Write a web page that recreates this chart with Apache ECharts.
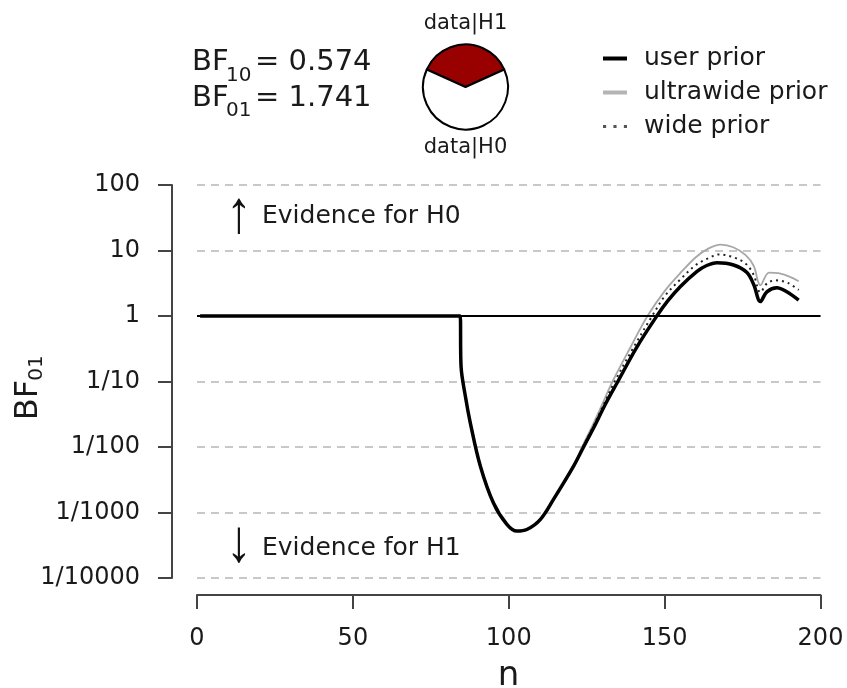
<!DOCTYPE html>
<html>
<head>
<meta charset="utf-8">
<script src="https://cdn.jsdelivr.net/npm/echarts@6/dist/echarts.min.js"></script>
<style>html,body{margin:0;padding:0;background:#fff}#c{width:847px;height:688px}</style>
</head>
<body>
<div id="c"></div>
<script>
// ---- data ----
var bf10 = 0.574;
var bf01 = 1.741;
var yTickValues = [0.0001, 0.001, 0.01, 0.1, 1, 10, 100];
var yTickLabels = ['1/10000', '1/1000', '1/100', '1/10', '1', '10', '100'];
var seriesNames = ['user prior', 'ultrawide prior', 'wide prior'];

var nUser = [1, 84.4, 84.7, 86.1, 87.7, 90.9, 95.1, 99.4, 102.6, 105.8, 110.1, 114.4, 120.8, 124, 127.2, 131, 135, 141, 147.5, 151, 155, 160.4, 163.5, 166.8, 172.1, 176.4, 178.6, 180.7, 182.8, 186, 189.2, 193];
var bfUser = [1, 1, 0.17, 0.059, 0.023, 0.0051, 0.0014, 0.00066, 0.00052, 0.00055, 0.00078, 0.0016, 0.0051, 0.01, 0.0195, 0.045, 0.1, 0.33, 1, 1.7, 2.8, 4.8, 5.9, 6.5, 6.0, 4.6, 3.0, 1.66, 2.34, 2.7, 2.34, 1.741];

var nUltra = [1, 84.4, 84.7, 86.1, 87.7, 90.9, 95.1, 99.4, 102.6, 105.8, 110.1, 114.4, 120.8, 123.5, 127, 130, 133.3, 139, 144.5, 150, 155, 160, 164, 168, 172, 176, 178.6, 180.7, 183.5, 186.5, 190, 193];
var bfUltra = [1, 1, 0.17, 0.059, 0.023, 0.0051, 0.0014, 0.00066, 0.00052, 0.00055, 0.00078, 0.0016, 0.0051, 0.01, 0.022, 0.045, 0.1, 0.33, 1, 2.4, 4.5, 7.9, 10.7, 12.3, 11.2, 8.5, 5.8, 2.95, 4.6, 4.5, 4.0, 3.4];

var nWide = [1, 84.4, 84.7, 86.1, 87.7, 90.9, 95.1, 99.4, 102.6, 105.8, 110.1, 114.4, 120.8, 124, 127.2, 130.5, 134, 140, 146, 150, 155, 160, 164, 167.5, 172, 176, 178.6, 180.7, 183, 186, 189.5, 193];
var bfWide = [1, 1, 0.17, 0.059, 0.023, 0.0051, 0.0014, 0.00066, 0.00052, 0.00055, 0.00078, 0.0016, 0.0051, 0.0105, 0.021, 0.045, 0.1, 0.33, 1, 2.0, 3.6, 6.0, 7.6, 8.7, 7.9, 6.3, 4.2, 2.3, 3.2, 3.5, 3.2, 2.5];

function pairs(xs, ys) { return xs.map(function (x, i) { return [x, ys[i]]; }); }

var FONT = '"DejaVu Sans", "Liberation Sans", sans-serif';
var TXT = '#1a1a1a';
var pH1 = bf10 / (1 + bf10);

var chart = echarts.init(document.getElementById('c'), null, {renderer: 'canvas'});
chart.setOption({
  animation: false,
  backgroundColor: '#fff',
  grid: {left: 197, right: 26.5, top: 185, bottom: 110, containLabel: false},
  xAxis: {
    type: 'value', min: 0, max: 200, interval: 50, offset: 17,
    axisLine: {show: true, onZero: false, lineStyle: {color: '#444', width: 2}},
    axisTick: {show: true, length: 14, inside: false, lineStyle: {color: '#444', width: 2}},
    axisLabel: {margin: 32, fontFamily: FONT, fontSize: 24, color: TXT, showMinLabel: true, showMaxLabel: true},
    splitLine: {show: false}
  },
  yAxis: {
    type: 'log', logBase: 10, min: 0.0001, max: 100, splitNumber: 6, offset: 25,
    axisLine: {show: true, onZero: false, lineStyle: {color: '#444', width: 2}},
    axisTick: {show: true, length: 14, lineStyle: {color: '#444', width: 2}},
    axisLabel: {margin: 32, fontFamily: FONT, fontSize: 24, color: TXT,
      formatter: function (v) { var i = Math.round(Math.log10(v)) + 4; return yTickLabels[i] || ''; }},
    splitLine: {show: true, lineStyle: {color: '#c8c8c8', width: 2, type: [8, 6]}}
  },
  legend: {
    orient: 'vertical', left: 598, top: 41, itemWidth: 24, itemHeight: 4, itemGap: 9,
    textStyle: {fontFamily: FONT, fontSize: 25, color: TXT, lineHeight: 25, padding: [0, 0, 0, 12]},
    data: [
      {name: seriesNames[0], icon: 'rect', itemStyle: {color: '#000'}},
      {name: seriesNames[1], icon: 'rect', itemStyle: {color: '#b4b4b4'}},
      {name: seriesNames[2], icon: 'path://M0,0h3v3h-3z M10,0h3v3h-3z M20,0h3v3h-3z', itemStyle: {color: '#555'}}
    ]
  },
  series: [
    {
      name: seriesNames[1], type: 'line', data: pairs(nUltra, bfUltra), showSymbol: false, symbol: 'none',
      smooth: 0.35, z: 2, itemStyle: {color: '#a8a8a8'},
      lineStyle: {color: '#a8a8a8', width: 1.8}
    },
    {
      name: seriesNames[2], type: 'line', data: pairs(nWide, bfWide), showSymbol: false, symbol: 'none',
      smooth: 0.35, z: 3, itemStyle: {color: '#222'},
      lineStyle: {color: '#222', width: 2, type: [2, 4]}
    },
    {
      name: seriesNames[0], type: 'line', data: pairs(nUser, bfUser), showSymbol: false, symbol: 'none',
      smooth: 0.35, z: 4, itemStyle: {color: '#000'},
      lineStyle: {color: '#000', width: 3.5},
      markLine: {silent: true, symbol: 'none', label: {show: false},
        lineStyle: {color: '#000', width: 2.2, type: 'solid'},
        data: [{yAxis: 1}]}
    },
    {
      type: 'pie', center: [465.5, 87], radius: 42.5, startAngle: 90 + 180 * pH1, clockwise: true,
      silent: true, label: {show: false}, labelLine: {show: false}, z: 5,
      itemStyle: {borderColor: '#000', borderWidth: 2},
      data: [
        {name: 'data|H1', value: pH1, itemStyle: {color: '#990000'}},
        {name: 'data|H0', value: 1 - pH1, itemStyle: {color: '#ffffff'}}
      ]
    }
  ],
  graphic: [
    {type: 'text', x: 192, y: 62, style: {text: 'BF', font: '29px ' + FONT, fill: TXT, align: 'left', verticalAlign: 'middle'}},
    {type: 'text', x: 226, y: 76, style: {text: '10', font: '20px ' + FONT, fill: TXT, align: 'left', verticalAlign: 'middle'}},
    {type: 'text', x: 255, y: 62, style: {text: '= ' + bf10.toFixed(3), font: '29px ' + FONT, fill: TXT, align: 'left', verticalAlign: 'middle'}},
    {type: 'text', x: 192, y: 98, style: {text: 'BF', font: '29px ' + FONT, fill: TXT, align: 'left', verticalAlign: 'middle'}},
    {type: 'text', x: 226, y: 111, style: {text: '01', font: '20px ' + FONT, fill: TXT, align: 'left', verticalAlign: 'middle'}},
    {type: 'text', x: 255, y: 98, style: {text: '= ' + bf01.toFixed(3), font: '29px ' + FONT, fill: TXT, align: 'left', verticalAlign: 'middle'}},
    {type: 'text', x: 465.5, y: 24, style: {text: 'data|H1', font: '21px ' + FONT, fill: TXT, align: 'center', verticalAlign: 'middle'}},
    {type: 'text', x: 465.5, y: 148, style: {text: 'data|H0', font: '21px ' + FONT, fill: TXT, align: 'center', verticalAlign: 'middle'}},
    {type: 'text', x: 239, y: 216, scaleY: 1.15, originX: 0, originY: 0, style: {text: '↑', font: '52px "Liberation Sans", ' + FONT, fill: '#111', align: 'center', verticalAlign: 'middle'}},
    {type: 'text', x: 262, y: 216, style: {text: 'Evidence for H0', font: '25px ' + FONT, fill: TXT, align: 'left', verticalAlign: 'middle'}},
    {type: 'text', x: 239, y: 545, scaleY: 1.15, originX: 0, originY: 0, style: {text: '↓', font: '52px "Liberation Sans", ' + FONT, fill: '#111', align: 'center', verticalAlign: 'middle'}},
    {type: 'text', x: 262, y: 548, style: {text: 'Evidence for H1', font: '25px ' + FONT, fill: TXT, align: 'left', verticalAlign: 'middle'}},
    {type: 'text', x: 29, y: 400, rotation: Math.PI / 2, style: {text: 'BF', font: '32px ' + FONT, fill: TXT, align: 'center', verticalAlign: 'middle'}},
    {type: 'text', x: 37, y: 368, rotation: Math.PI / 2, style: {text: '01', font: '20px ' + FONT, fill: TXT, align: 'center', verticalAlign: 'middle'}},
    {type: 'text', x: 508.5, y: 676, style: {text: 'n', font: '34px ' + FONT, fill: TXT, align: 'center', verticalAlign: 'middle'}}
  ]
});
</script>
</body>
</html>
